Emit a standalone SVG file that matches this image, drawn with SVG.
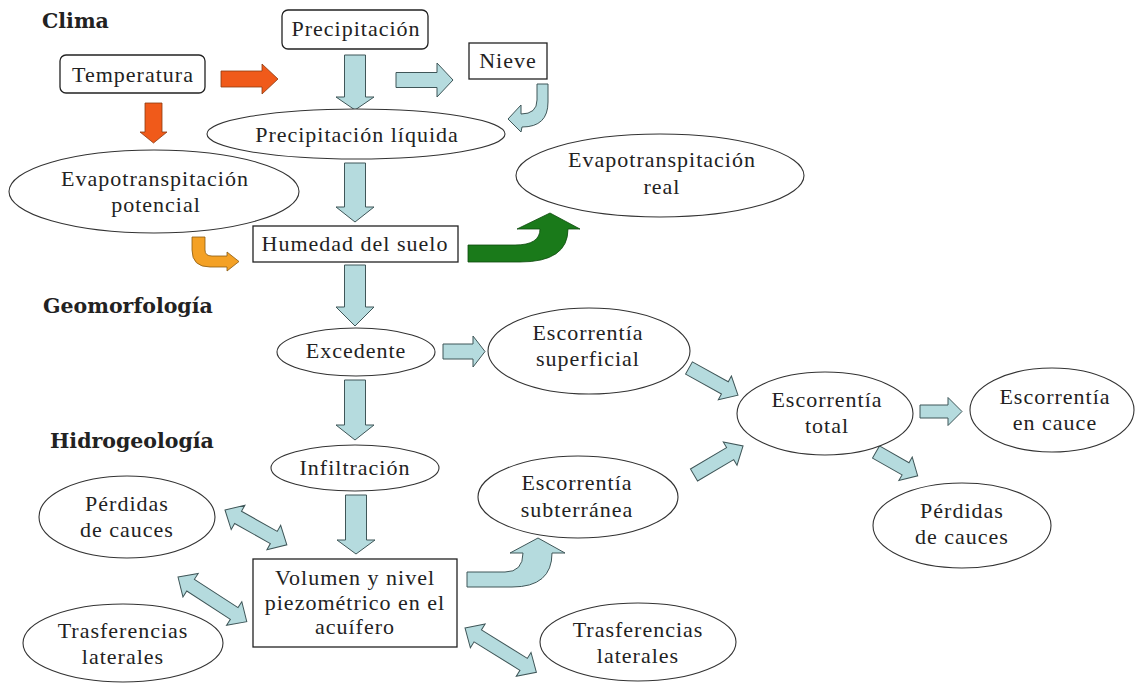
<svg xmlns="http://www.w3.org/2000/svg" width="1139" height="683" viewBox="0 0 1139 683">
<style>
.t{font-family:"Liberation Serif","Times New Roman",serif;font-size:22px;letter-spacing:1px;fill:#222;text-anchor:middle}
.h{font-family:"DejaVu Serif","Liberation Serif",serif;font-size:20.5px;font-weight:bold;fill:#222}
.el{fill:#fff;stroke:#333;stroke-width:1.1}
.bx{fill:#fff;stroke:#222;stroke-width:1.3}
.ba{fill:#b5dbde;stroke:#3f5658;stroke-width:1}
.oa{fill:#f05a1a;stroke:#8a3a10;stroke-width:0.8}
.ob{fill:#f4a125;stroke:#8a5a10;stroke-width:0.8}
.ga{fill:#1a7a1a;stroke:#0e4a0e;stroke-width:0.8}
</style>
<rect width="1139" height="683" fill="#fff"/>
<g id="headers">
<text class="h" x="42" y="28">Clima</text>
<text class="h" x="43" y="313">Geomorfología</text>
<text class="h" x="50" y="448">Hidrogeología</text>
</g>
<g id="connectors">
<polygon class="oa" points="0,-8 41,-8 41,-15 57,0 41,15 41,8 0,8" transform="translate(221,79)"/>
<polygon class="oa" points="0,-8.5 29,-8.5 29,-13.5 40,0 29,13.5 29,8.5 0,8.5" transform="translate(153.5,103) rotate(90)"/>
<polygon class="ba" points="0,-10.5 42,-10.5 42,-19 55,0 42,19 42,10.5 0,10.5" transform="translate(355,55) rotate(90)"/>
<polygon class="ba" points="0,-7.5 41,-7.5 41,-17 57,0 41,17 41,7.5 0,7.5" transform="translate(396,80)"/>
<path class="ba" d="M537,84 L548,84 L548,102 Q548,127 522,127 L521,132 L508,119 L521,105 L521,114 Q537,114 537,100 Z"/>
<polygon class="ba" points="0,-10.5 44,-10.5 44,-19 59,0 44,19 44,10.5 0,10.5" transform="translate(355,163) rotate(90)"/>
<path class="ob" d="M192,237 L205,237 L205,250 Q205,256 212,256 L227,256 L227,252 L239,261.5 L227,271 L227,267 L210,267 Q192,267 192,250 Z"/>
<path class="ga" d="M468,245 L515,245 Q540,245 540,229 L517,229 L550,213 L580,229 L568,229 Q568,262 520,262 L468,262 Z"/>
<polygon class="ba" points="0,-10.5 42,-10.5 42,-19 61,0 42,19 42,10.5 0,10.5" transform="translate(355,265) rotate(90)"/>
<polygon class="ba" points="0,-7.5 30,-7.5 30,-15.5 42,0 30,15.5 30,7.5 0,7.5" transform="translate(443,351.5)"/>
<polygon class="ba" points="0,-10.5 45,-10.5 45,-19 60,0 45,19 45,10.5 0,10.5" transform="translate(355,380) rotate(90)"/>
<polygon class="ba" points="0,-10.5 45,-10.5 45,-19 59,0 45,19 45,10.5 0,10.5" transform="translate(356,495) rotate(90)"/>
<polygon class="ba" points="0,0 15,-14 15,-7 56,-7 56,-14 71,0 56,14 56,7 15,7 15,14" transform="translate(225,510) rotate(29.4)"/>
<polygon class="ba" points="0,0 15,-14 15,-7 67,-7 67,-14 82,0 67,14 67,7 15,7 15,14" transform="translate(178,577) rotate(33)"/>
<polygon class="ba" points="0,0 15,-14 15,-7 69,-7 69,-14 84,0 69,14 69,7 15,7 15,14" transform="translate(465,628) rotate(31.8)"/>
<path class="ba" d="M467,572 L505,572 Q523,572 523,553 L510,553 L538,538 L565,553 L552,553 Q552,587 512,587 L467,587 Z"/>
<polygon class="ba" points="0,-7 41,-7 41,-13.5 56,0 41,13.5 41,7 0,7" transform="translate(689,368) rotate(29)"/>
<polygon class="ba" points="0,-7 42,-7 42,-13.5 57,0 42,13.5 42,7 0,7" transform="translate(694,475) rotate(-30.6)"/>
<polygon class="ba" points="0,-6.5 28,-6.5 28,-14 42,0 28,14 28,6.5 0,6.5" transform="translate(920,411.5)"/>
<polygon class="ba" points="0,-7 34,-7 34,-13.5 48,0 34,13.5 34,7 0,7" transform="translate(876,452) rotate(29.7)"/>
</g>
<g id="precipitacion"><rect class="bx" x="282" y="10" width="146" height="39" rx="6"/><text class="t" x="356" y="36">Precipitación</text></g>
<g id="temperatura"><rect class="bx" x="60" y="55" width="145" height="38" rx="6"/><text class="t" x="133" y="82">Temperatura</text></g>
<g id="nieve"><rect class="bx" x="469" y="43" width="78" height="36"/><text class="t" x="508" y="68">Nieve</text></g>
<g id="precip-liquida"><ellipse class="el" cx="356" cy="134" rx="149" ry="25"/><text class="t" x="357" y="142">Precipitación líquida</text></g>
<g id="evap-potencial"><ellipse class="el" cx="154" cy="191.5" rx="145" ry="41.5"/><text class="t" x="155" y="186">Evapotranspitación</text><text class="t" x="156" y="212">potencial</text></g>
<g id="evap-real"><ellipse class="el" cx="660" cy="175.5" rx="144" ry="41.5"/><text class="t" x="662" y="167">Evapotranspitación</text><text class="t" x="662" y="194">real</text></g>
<g id="humedad"><rect class="bx" x="253" y="226" width="205" height="36"/><text class="t" x="355" y="251">Humedad del suelo</text></g>
<g id="excedente"><ellipse class="el" cx="356" cy="352" rx="79" ry="24"/><text class="t" x="356" y="358">Excedente</text></g>
<g id="esc-superficial"><ellipse class="el" cx="589" cy="351" rx="101" ry="43"/><text class="t" x="588" y="340">Escorrentía</text><text class="t" x="588" y="366">superficial</text></g>
<g id="infiltracion"><ellipse class="el" cx="355" cy="468" rx="84" ry="23"/><text class="t" x="355" y="475">Infiltración</text></g>
<g id="perdidas-izq"><ellipse class="el" cx="127" cy="517" rx="88" ry="41"/><text class="t" x="127" y="511">Pérdidas</text><text class="t" x="127" y="537">de cauces</text></g>
<g id="volumen"><rect class="bx" x="253" y="559" width="204" height="88"/><text class="t" x="355" y="585">Volumen y nivel</text><text class="t" x="355" y="610">piezométrico en el</text><text class="t" x="355" y="634">acuífero</text></g>
<g id="esc-subterranea"><ellipse class="el" cx="578" cy="497" rx="100" ry="41"/><text class="t" x="577" y="490">Escorrentía</text><text class="t" x="577" y="517">subterránea</text></g>
<g id="trasf-izq"><ellipse class="el" cx="123" cy="643" rx="100" ry="39"/><text class="t" x="123" y="638">Trasferencias</text><text class="t" x="123" y="664">laterales</text></g>
<g id="trasf-der"><ellipse class="el" cx="638" cy="642" rx="98" ry="39"/><text class="t" x="638" y="637">Trasferencias</text><text class="t" x="638" y="663">laterales</text></g>
<g id="esc-total"><ellipse class="el" cx="825" cy="413.5" rx="88" ry="41.5"/><text class="t" x="827" y="407">Escorrentía</text><text class="t" x="827" y="433">total</text></g>
<g id="esc-cauce"><ellipse class="el" cx="1052" cy="410" rx="82" ry="42"/><text class="t" x="1055" y="404">Escorrentía</text><text class="t" x="1055" y="430">en cauce</text></g>
<g id="perdidas-der"><ellipse class="el" cx="962" cy="525.5" rx="89" ry="42.5"/><text class="t" x="962" y="518">Pérdidas</text><text class="t" x="962" y="544">de cauces</text></g>
</svg>
